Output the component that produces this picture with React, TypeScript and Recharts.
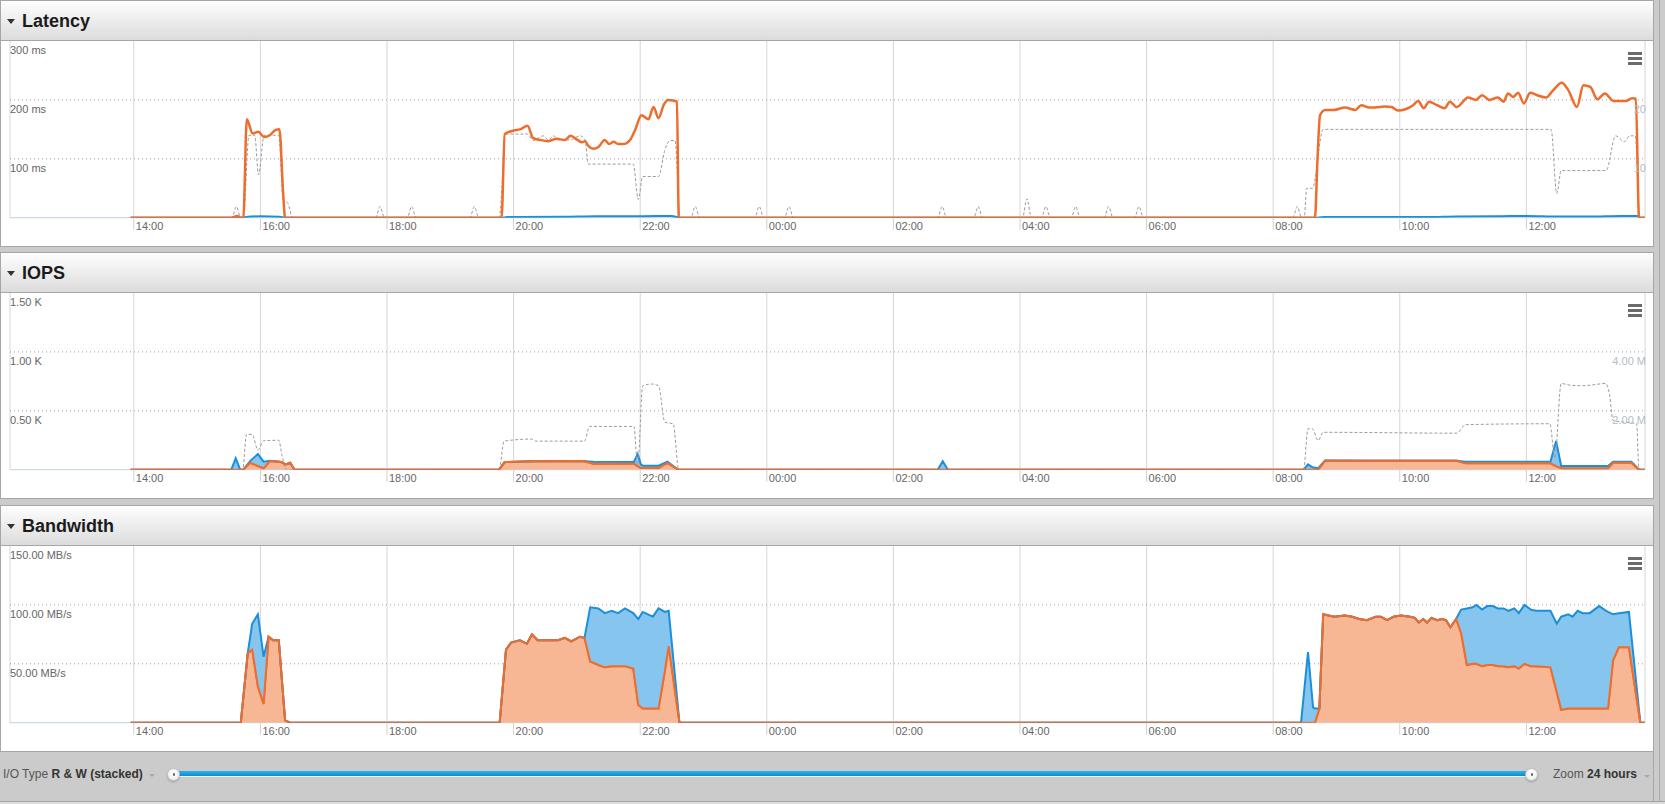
import React from 'react';
import { ComposedChart, Line, Area, XAxis, YAxis, CartesianGrid } from 'recharts';

// ---------- data (x = hours after 14:00 of the first day) ----------
const hourTicks = [0, 2, 4, 6, 8, 10, 12, 14, 16, 18, 20, 22];
const hourLabels = ['14:00', '16:00', '18:00', '20:00', '22:00', '00:00', '02:00', '04:00', '06:00', '08:00', '10:00', '12:00'];

const latencyTicks = [100, 200, 300];
const latencyTickLabels = ['100 ms', '200 ms', '300 ms'];
const latencyRightTicks = [10, 20];
const latencyRightLabels = ['10', '20'];

const iopsTicks = [500, 1000, 1500];
const iopsTickLabels = ['0.50 K', '1.00 K', '1.50 K'];
const iopsRightTicks = [2, 4];
const iopsRightLabels = ['2.00 M', '4.00 M'];

const bandwidthTicks = [50, 100, 150];
const bandwidthTickLabels = ['50.00 MB/s', '100.00 MB/s', '150.00 MB/s'];

// Latency (ms) – orange series
const latencyWriteMs: number[][] = [
  [-0.05, 0], [1.55, 0], [1.63, 3], [1.7, 0], [1.73, 0], [1.785, 167], [1.877, 143], [1.967, 146], [2.057, 137], [2.149, 140],
  [2.239, 149], [2.3, 150], [2.36, 40], [2.39, 0],
  [5.81, 0], [5.86, 142], [6.0, 148], [6.1, 150], [6.22, 156], [6.31, 135], [6.42, 132], [6.55, 130], [6.68, 134], [6.81, 132],
  [6.9, 139], [7.01, 132], [7.08, 128], [7.13, 130], [7.18, 122], [7.26, 117], [7.34, 120], [7.44, 132], [7.51, 125], [7.58, 129],
  [7.65, 125], [7.73, 125], [7.84, 132], [7.92, 149], [8.02, 174], [8.13, 167], [8.21, 188], [8.29, 169], [8.37, 191], [8.44, 200],
  [8.52, 199], [8.58, 197], [8.61, 0],
  [18.66, 0], [18.7, 100], [18.74, 174], [18.82, 183], [18.96, 183], [19.13, 187], [19.3, 183], [19.39, 191], [19.52, 187], [19.69, 188],
  [19.76, 189], [19.87, 188], [19.97, 182], [20.21, 191], [20.29, 198], [20.38, 186], [20.46, 197], [20.59, 191], [20.71, 186], [20.79, 197],
  [20.9, 188], [21.08, 204], [21.2, 200], [21.3, 208], [21.42, 200], [21.55, 204], [21.64, 197], [21.71, 211], [21.79, 205], [21.87, 212],
  [21.96, 194], [22.06, 212], [22.17, 208], [22.31, 204], [22.42, 216], [22.56, 229], [22.66, 217], [22.8, 188], [22.9, 225], [23.01, 222],
  [23.12, 201], [23.24, 211], [23.38, 198], [23.57, 198], [23.67, 203], [23.73, 202], [23.78, 0], [23.87, 0],
];

// Latency (ms) – blue series
const latencyReadMs: number[][] = [
  [-0.05, 0], [1.7, 0], [1.8, 1.5], [2.0, 2.5], [2.3, 1.5], [2.4, 0], [5.8, 0], [5.9, 1], [6.8, 1.5], [7.3, 2.5],
  [8.0, 2.5], [8.5, 3], [8.62, 0], [18.65, 0], [18.8, 1], [20.4, 1], [20.9, 2], [21.6, 2.5], [22.0, 3], [22.5, 2],
  [23.0, 2], [23.5, 3], [23.76, 3], [23.8, 0], [23.87, 0],
];

// Latency – grey dashed series (right axis)
const latencyOther: number[][] = [
  [-0.05, 0], [1.55, 0], [1.62, 1.9], [1.69, 0], [1.73, 0], [1.82, 14], [1.91, 14], [1.97, 7.3], [2.06, 14], [2.29, 14],
  [2.36, 3], [2.43, 2.5], [2.51, 0],
  [3.82, 0], [3.89, 1.9], [3.96, 0], [4.32, 0], [4.39, 1.9], [4.46, 0], [5.31, 0], [5.38, 1.9], [5.45, 0],
  [5.77, 0], [5.84, 10], [5.86, 14.2], [6.22, 14.2], [6.31, 13.1], [6.47, 13.9], [6.55, 13.2], [6.63, 13.9], [6.71, 13.2], [6.89, 13.2],
  [7.05, 13.9], [7.13, 13.2], [7.18, 9.1], [7.89, 9.1], [7.97, 3.1], [8.04, 7.0], [8.29, 7.0], [8.39, 11.5], [8.47, 13.1], [8.55, 13.1],
  [8.63, 0],
  [8.8, 0], [8.87, 1.9], [8.94, 0], [9.81, 0], [9.88, 1.9], [9.95, 0], [10.28, 0], [10.35, 1.9], [10.42, 0],
  [12.7, 0], [12.77, 1.9], [12.84, 0], [13.27, 0], [13.34, 1.9], [13.41, 0], [14.04, 0], [14.11, 3.2], [14.18, 0],
  [14.34, 0], [14.41, 1.9], [14.48, 0], [14.81, 0], [14.88, 1.9], [14.95, 0], [15.33, 0], [15.4, 1.9], [15.47, 0],
  [15.81, 0], [15.88, 1.9], [15.95, 0], [18.31, 0], [18.38, 1.9], [18.45, 0],
  [18.49, 0], [18.53, 5], [18.62, 5], [18.79, 15], [22.39, 15], [22.48, 4.1], [22.55, 8], [23.26, 8], [23.41, 13.9], [23.55, 12.9],
  [23.63, 13.9], [23.72, 13.9], [23.79, 0], [23.87, 0],
];

// IOPS (stacked): orange = write, blue = read
const iopsHours = [
  -0.05, 1.54, 1.61, 1.68, 1.73, 1.84, 1.96, 2.05, 2.15, 2.33,
  2.4, 2.47, 2.54, 5.77, 5.86, 6.3, 7.05, 7.12, 7.26, 7.9,
  7.96, 8.01, 8.04, 8.29, 8.43, 8.6, 12.7, 12.78, 12.86, 18.48,
  18.55, 18.62, 18.71, 18.82, 19.5, 20.3, 20.9, 21.04, 22.38, 22.47,
  22.55, 23.29, 23.37, 23.66, 23.78, 23.87,
];
const iopsWrite = [
  0, 0, 0, 0, 0, 59, 31, 12, 74, 65,
  45, 59, 0, 0, 65, 71, 73, 71, 51, 51,
  30, 14, 14, 14, 57, 0, 0, 0, 0, 0,
  0, 0, 0, 76, 77, 76, 76, 54, 54, 30,
  12, 12, 59, 59, 0, 0,
];
const iopsRead = [
  0, 0, 97, 0, 0, 16, 102, 56, 2, 0,
  0, 0, 0, 0, 0, 0, 0, 0, 17, 14,
  103, 31, 20, 20, 11, 0, 0, 72, 0, 0,
  46, 20, 12, 2, 0, 1, 0, 14, 14, 213,
  19, 19, 9, 9, 0, 0,
];
// IOPS – grey dashed series (millions, right axis)
const iopsOtherM: number[][] = [
  [-0.05, 0], [1.72, 0], [1.78, 1.2], [1.87, 1.2], [1.96, 0.67], [2.05, 0.98], [2.29, 1.0], [2.34, 0.5], [2.41, 0],
  [5.77, 0], [5.85, 0.97], [6.28, 1.04], [6.35, 0.97], [7.12, 0.97], [7.2, 1.47], [7.9, 1.47], [7.96, 0.1], [8.04, 2.85], [8.18, 2.91],
  [8.29, 2.85], [8.39, 1.61], [8.52, 1.56], [8.61, 0],
  [18.48, 0], [18.55, 1.39], [18.62, 1.39], [18.71, 0.99], [18.79, 1.27], [20.9, 1.24], [21.04, 1.53], [22.37, 1.56], [22.45, 0.4], [22.55, 2.93],
  [22.66, 2.88], [22.87, 2.85], [23.05, 2.88], [23.25, 2.93], [23.31, 2.6], [23.37, 1.67], [23.74, 1.56], [23.78, 0], [23.87, 0],
];

// Bandwidth (MB/s, stacked): orange = write, blue = read
const bandwidthHours = [
  -0.05, 1.69, 1.8, 1.87, 1.96, 2.05, 2.13, 2.2, 2.29, 2.39,
  2.47, 5.78, 5.88, 5.96, 6.1, 6.21, 6.29, 6.38, 6.49, 6.7,
  6.81, 6.91, 7.05, 7.12, 7.21, 7.34, 7.44, 7.55, 7.65, 7.76,
  7.89, 7.97, 8.04, 8.2, 8.29, 8.39, 8.45, 8.62, 18.44, 18.55,
  18.63, 18.66, 18.73, 18.79, 18.96, 19.13, 19.25, 19.36, 19.48, 19.62,
  19.7, 19.8, 19.9, 20.02, 20.16, 20.24, 20.3, 20.37, 20.43, 20.5,
  20.59, 20.67, 20.73, 20.8, 20.89, 20.97, 21.06, 21.15, 21.21, 21.3,
  21.38, 21.47, 21.55, 21.64, 21.72, 21.81, 21.88, 21.97, 22.07, 22.15,
  22.38, 22.48, 22.55, 22.66, 22.73, 22.81, 22.89, 23.0, 23.15, 23.26,
  23.29, 23.37, 23.46, 23.62, 23.8, 23.87,
];
const bandwidthWrite = [
  0, 0, 59, 62, 31, 16, 73, 70, 70, 2,
  0, 0, 62, 68, 70, 67, 75, 70, 70, 70,
  72, 69, 73, 72, 52, 49, 47, 48, 48, 48,
  46, 15, 12, 12, 12, 44, 65, 0, 0, 0,
  0, 0, 12, 92, 90, 91, 90, 88, 87, 90,
  90, 87, 90, 91, 90, 89, 85, 88, 85, 89,
  87, 88, 87, 81, 88, 76, 49, 50, 50, 48,
  49, 49, 48, 48, 47, 48, 46, 50, 48, 48,
  47, 26, 11, 12, 12, 12, 12, 12, 12, 12,
  12, 53, 64, 64, 0, 0,
];
const bandwidthRead = [
  0, 0, 0, 22, 61, 40, 0, 0, 0, 0,
  0, 0, 0, 0, 0, 0, 0, 0, 0, 0,
  0, 0, 0, 0, 46, 48, 46, 47, 45, 49,
  47, 73, 82, 78, 85, 50, 30, 0, 0, 60,
  13, 12, 0, 0, 0, 0, 0, 0, 0, 0,
  0, 0, 0, 0, 0, 0, 0, 0, 0, 0,
  0, 0, 0, 0, 0, 20, 48, 48, 50, 48,
  50, 50, 49, 49, 48, 49, 47, 50, 48, 47,
  48, 58, 79, 80, 78, 83, 81, 81, 87, 83,
  82, 39, 29, 30, 0, 0,
];

// ---------- tables built for the library ----------
const toRows = (pts: number[][]) => pts.map(([t, v]) => ({ t, v }));
const iopsRows = iopsHours.map((t, i) => ({ t, w: iopsWrite[i], r: iopsRead[i] }));
const bandwidthRows = bandwidthHours.map((t, i) => ({ t, w: bandwidthWrite[i], r: bandwidthRead[i] }));

// ---------- styling ----------
const FONT = '"Liberation Sans", Arial, Helvetica, sans-serif';
const ORANGE = '#EF6D2C';
const ORANGE_FILL = '#F7B794';
const BLUE = '#1B8FDA';
const BLUE_FILL = '#86C5EE';
const GRAY_LINE = '#9b9b9b';
const X_DOMAIN: [number, number] = [-1.956, 23.874];
const CHART_W = 1652;
const CHART_H = 205;
const X_AXIS_H = 28.3;
const MARGIN = { top: 0, right: 7, bottom: 0, left: 10 };

function XTick(props: any) {
  const { x, y, payload } = props;
  const label = hourLabels[hourTicks.indexOf(payload.value)];
  return (
    <g>
      <line x1={x} x2={x} y1={y} y2={y + 12} stroke="#d0d0d0" />
      <text x={x + 2} y={y + 12} fill="#666" fontSize={11} fontFamily={FONT}>{label}</text>
    </g>
  );
}

const leftTick = (ticks: number[], labels: string[]) => (props: any) => (
  <text x={10} y={props.y + 13} fill="#666" fontSize={11} fontFamily={FONT}>
    {labels[ticks.indexOf(props.payload.value)]}
  </text>
);

const rightTick = (ticks: number[], labels: string[]) => (props: any) => (
  <text x={1646} y={props.y + 13} fill="#b5bdc6" fontSize={11} fontFamily={FONT} textAnchor="end">
    {labels[ticks.indexOf(props.payload.value)]}
  </text>
);

function frame(
  lTicks: number[], lLabels: string[], lMax: number, gridVals: number[],
  rTicks?: number[], rLabels?: string[], rMax?: number,
) {
  const els: any[] = [
    <CartesianGrid key="gv" yAxisId="left" horizontal={false} stroke="#d6d6d6" />,
    <CartesianGrid key="gh" yAxisId="left" vertical={false} horizontalValues={gridVals} stroke="#a0a0a0" strokeDasharray="1 3" />,
    <CartesianGrid key="gb" yAxisId="left" vertical={false} horizontalValues={[0]} stroke="#C0D0E0" />,
    <XAxis key="x" dataKey="t" type="number" domain={X_DOMAIN} ticks={hourTicks} allowDataOverflow interval={0}
      axisLine={false} tickLine={false} tickSize={0} tickMargin={0} height={X_AXIS_H} tick={XTick} />,
    <YAxis key="yl" yAxisId="left" domain={[0, lMax]} ticks={lTicks} allowDataOverflow interval={0} mirror
      axisLine={false} tickLine={false} tick={leftTick(lTicks, lLabels)} />,
  ];
  if (rTicks && rLabels && rMax) {
    els.push(
      <YAxis key="yr" yAxisId="right" orientation="right" domain={[0, rMax]} ticks={rTicks} allowDataOverflow interval={0} mirror
        axisLine={false} tickLine={false} tick={rightTick(rTicks, rLabels)} />,
    );
  }
  return els;
}

function LatencyChart() {
  return (
    <ComposedChart width={CHART_W} height={CHART_H} margin={MARGIN}>
      {frame(latencyTicks, latencyTickLabels, 300, [100, 200], latencyRightTicks, latencyRightLabels, 30)}
      <Line yAxisId="right" data={toRows(latencyOther)} dataKey="v" type="monotone" stroke={GRAY_LINE} strokeWidth={1}
        strokeDasharray="3 2" dot={false} activeDot={false} isAnimationActive={false} />
      <Line yAxisId="left" data={toRows(latencyReadMs)} dataKey="v" type="monotone" stroke={BLUE} strokeWidth={2}
        dot={false} activeDot={false} isAnimationActive={false} />
      <Line yAxisId="left" data={toRows(latencyWriteMs)} dataKey="v" type="monotone" stroke={ORANGE} strokeWidth={2.5}
        dot={false} activeDot={false} isAnimationActive={false} />
    </ComposedChart>
  );
}

function IopsChart() {
  return (
    <ComposedChart width={CHART_W} height={CHART_H} margin={MARGIN} data={iopsRows}>
      {frame(iopsTicks, iopsTickLabels, 1500, [500, 1000], iopsRightTicks, iopsRightLabels, 6)}
      <Area yAxisId="left" dataKey="w" stackId="io" type="linear" stroke={ORANGE} strokeWidth={2} fill={ORANGE_FILL}
        fillOpacity={1} dot={false} activeDot={false} isAnimationActive={false} />
      <Area yAxisId="left" dataKey="r" stackId="io" type="linear" stroke={BLUE} strokeWidth={2} fill={BLUE_FILL}
        fillOpacity={1} dot={false} activeDot={false} isAnimationActive={false} />
      <Line yAxisId="right" data={toRows(iopsOtherM)} dataKey="v" type="monotone" stroke={GRAY_LINE} strokeWidth={1}
        strokeDasharray="3 2" dot={false} activeDot={false} isAnimationActive={false} />
      <Line yAxisId="left" dataKey="w" type="linear" stroke={ORANGE} strokeWidth={2}
        dot={false} activeDot={false} isAnimationActive={false} />
    </ComposedChart>
  );
}

function BandwidthChart() {
  return (
    <ComposedChart width={CHART_W} height={CHART_H} margin={MARGIN} data={bandwidthRows}>
      {frame(bandwidthTicks, bandwidthTickLabels, 150, [50, 100])}
      <Area yAxisId="left" dataKey="w" stackId="bw" type="linear" stroke={ORANGE} strokeWidth={2} fill={ORANGE_FILL}
        fillOpacity={1} dot={false} activeDot={false} isAnimationActive={false} />
      <Area yAxisId="left" dataKey="r" stackId="bw" type="linear" stroke={BLUE} strokeWidth={2} fill={BLUE_FILL}
        fillOpacity={1} dot={false} activeDot={false} isAnimationActive={false} />
      <Line yAxisId="left" dataKey="w" type="linear" stroke={ORANGE} strokeWidth={2}
        dot={false} activeDot={false} isAnimationActive={false} />
    </ComposedChart>
  );
}

function Hamburger() {
  return (
    <>
      {[51, 56, 61].map((t) => (
        <div key={t} style={{ position: 'absolute', left: 1627, top: t, width: 14, height: 3, background: '#6b6b6b' }} />
      ))}
    </>
  );
}

function Panel({ top, title, children }: { top: number; title: string; children: React.ReactNode }) {
  return (
    <div style={{ position: 'absolute', left: 0, top, width: 1654, height: 247, boxSizing: 'border-box', border: '1px solid #a6a6a6', background: '#fff' }}>
      <div style={{ position: 'absolute', left: 0, top: 0, width: 1652, height: 39, background: 'linear-gradient(#fefefe, #dcdcdc)', borderBottom: '1px solid #a6a6a6' }}>
        <div style={{ position: 'absolute', left: 6, top: 18, width: 0, height: 0, borderLeft: '4px solid transparent', borderRight: '4px solid transparent', borderTop: '5px solid #333' }} />
        <div style={{ position: 'absolute', left: 21, top: 1, height: 39, lineHeight: '39px', fontSize: 18, fontWeight: 'bold', color: '#1b1b1b', whiteSpace: 'nowrap' }}>{title}</div>
      </div>
      <div style={{ position: 'absolute', left: -1, top: 40, width: CHART_W, height: CHART_H }}>{children}</div>
      <Hamburger />
    </div>
  );
}

function Handle({ cx }: { cx: number }) {
  return (
    <div style={{ position: 'absolute', left: cx - 6.5, top: 767.5, width: 13, height: 13, borderRadius: '50%', boxSizing: 'border-box', border: '1px solid #c4c4c4', background: 'radial-gradient(circle at 50% 40%, #ffffff 0%, #f2f2f2 60%, #e2e2e2 100%)', boxShadow: '0 1px 2px rgba(0,0,0,0.25)' }}>
      <div style={{ position: 'absolute', left: 4.5, top: 4.5, width: 2.5, height: 2.5, borderRadius: '50%', background: '#666' }} />
    </div>
  );
}

function BottomBar() {
  return (
    <>
      <div style={{ position: 'absolute', left: 3, top: 764, height: 20, lineHeight: '20px', fontSize: 12, color: '#555', whiteSpace: 'nowrap' }}>
        I/O Type <span style={{ fontWeight: 'bold', color: '#333' }}>R &amp; W (stacked)</span>
      </div>
      <div style={{ position: 'absolute', left: 149, top: 774, width: 0, height: 0, borderLeft: '3px solid transparent', borderRight: '3px solid transparent', borderTop: '3px solid #a9a9a9' }} />
      <div style={{ position: 'absolute', left: 176, top: 771, width: 1356, height: 5, background: 'linear-gradient(#2cb2ec, #0b8dd4)', boxShadow: '0 1px 0 #f2f2f2' }} />
      <Handle cx={173.5} />
      <Handle cx={1531.5} />
      <div style={{ position: 'absolute', left: 1553, top: 764, height: 20, lineHeight: '20px', fontSize: 12, color: '#555', whiteSpace: 'nowrap' }}>
        Zoom <span style={{ fontWeight: 'bold', color: '#333' }}>24 hours</span>
      </div>
      <div style={{ position: 'absolute', left: 1644, top: 775, width: 0, height: 0, borderLeft: '3px solid transparent', borderRight: '3px solid transparent', borderTop: '3px solid #a9a9a9' }} />
      <div style={{ position: 'absolute', left: 1653, top: 751, width: 1, height: 50, background: '#a6a6a6' }} />
      <div style={{ position: 'absolute', left: 0, top: 801, width: 1665, height: 1, background: '#a3a3a3' }} />
      <div style={{ position: 'absolute', left: 0, top: 802, width: 1665, height: 2, background: '#dcdcdc' }} />
    </>
  );
}

export default function App() {
  return (
    <div style={{ position: 'absolute', left: 0, top: 0, width: 1665, height: 804, background: '#cbcbcb', overflow: 'hidden', fontFamily: FONT }}>
      <div style={{ position: 'absolute', left: 1659, top: 0, width: 1, height: 801, background: '#a8a8a8' }} />
      <Panel top={0} title="Latency"><LatencyChart /></Panel>
      <Panel top={252} title="IOPS"><IopsChart /></Panel>
      <Panel top={505} title="Bandwidth"><BandwidthChart /></Panel>
      <BottomBar />
    </div>
  );
}
